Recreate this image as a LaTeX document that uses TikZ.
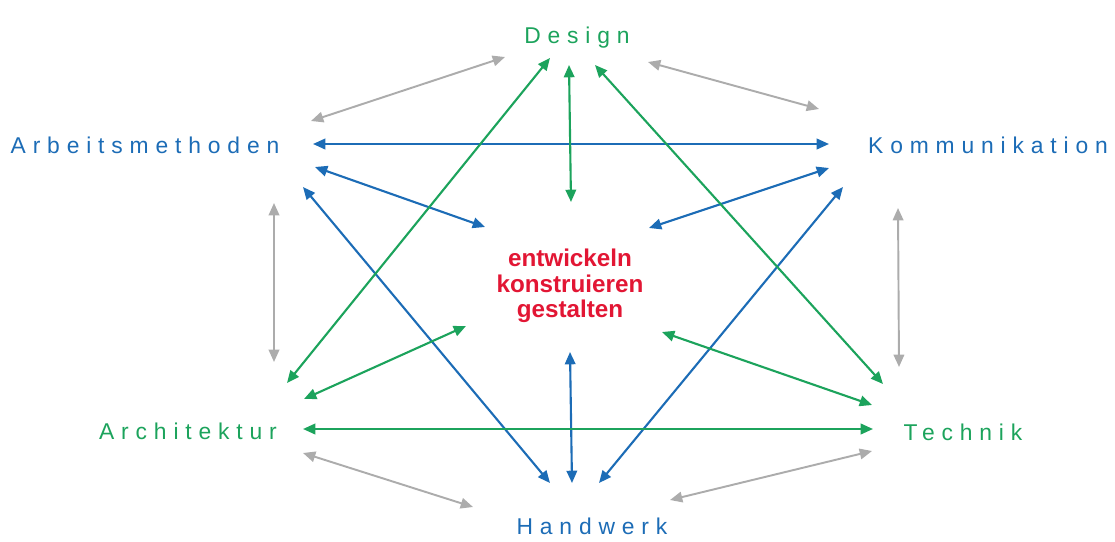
\documentclass[tikz,border=0pt]{standalone}
\usepackage{fontspec}
\setmainfont{Liberation Sans}
\newfontfamily\spaced[LetterSpace=30]{Liberation Sans}
\usepackage{xcolor}
\definecolor{LinkBlue}{RGB}{28, 108, 182}
\definecolor{LinkGreen}{RGB}{28, 163, 92}
\definecolor{LinkGray}{RGB}{172, 172, 172}
\definecolor{CoreRed}{RGB}{226, 22, 52}
\usetikzlibrary{arrows.meta}

\begin{document}
\begin{tikzpicture}[
    x=0.02cm, y=-0.02cm,
    label/.style={inner sep=0pt, anchor=base, font=\spaced\fontsize{13}{15}\selectfont},
    core/.style={inner sep=0pt, align=center, text=CoreRed, font=\bfseries\fontsize{13.8}{14.6}\selectfont},
    link/.style={{Triangle[length=7pt,width=6pt]}-{Triangle[length=7pt,width=6pt]}, line width=1.2pt},
    bluelink/.style={link, LinkBlue},
    greenlink/.style={link, LinkGreen},
    graylink/.style={link, LinkGray, line width=1.1pt}
]
\useasboundingbox (0,0) rectangle (1115,541);

% Labels
\node[label, text=LinkGreen] (design) at (577,43) {Design};
\node[label, text=LinkBlue] (arbeit) at (145,153) {Arbeitsmethoden};
\node[label, text=LinkBlue] (kommu) at (988,153) {Kommunikation};
\node[label, text=LinkGreen] (archi) at (188,439) {Architektur};
\node[label, text=LinkGreen] (technik) at (963,440) {Technik};
\node[label, text=LinkBlue] (handw) at (592,534) {Handwerk};
\node[core] (kern) at (570,286) {entwickeln\\konstruieren\\gestalten};

% Outer ring (gray)
\draw[graylink] ([shift={(166,-32)}]arbeit.base) -- ([shift={(-72,14)}]design.base);
\draw[graylink] ([shift={(71,19)}]design.base) -- ([shift={(-169,-44)}]kommu.base);
\draw[graylink] ([shift={(129,50)}]arbeit.base) -- ([shift={(86,-77)}]archi.base);
\draw[graylink] ([shift={(-90,55)}]kommu.base) -- ([shift={(-64,-73)}]technik.base);
\draw[graylink] ([shift={(115,14)}]archi.base) -- ([shift={(-119,-27)}]handw.base);
\draw[graylink] ([shift={(78,-34)}]handw.base) -- ([shift={(-91,11)}]technik.base);

% Blue links
\draw[bluelink] ([shift={(168,-9)}]arbeit.base) -- ([shift={(-159,-9)}]kommu.base);
\draw[bluelink] ([shift={(170,14)}]arbeit.base) -- ([shift={(-85,-59)}]kern.center);
\draw[bluelink] ([shift={(158,34)}]arbeit.base) -- ([shift={(-42,-51)}]handw.base);
\draw[bluelink] ([shift={(-159,15)}]kommu.base) -- ([shift={(79,-58)}]kern.center);
\draw[bluelink] ([shift={(-145,34)}]kommu.base) -- ([shift={(7,-51)}]handw.base);
\draw[bluelink] ([shift={(0,66)}]kern.center) -- ([shift={(-20,-51)}]handw.base);

% Green links
\draw[greenlink] ([shift={(-8,22)}]design.base) -- ([shift={(1,-84)}]kern.center);
\draw[greenlink] ([shift={(-27,15)}]design.base) -- ([shift={(99,-56)}]archi.base);
\draw[greenlink] ([shift={(18,22)}]design.base) -- ([shift={(-80,-56)}]technik.base);
\draw[greenlink] ([shift={(116,-40)}]archi.base) -- ([shift={(-104,40)}]kern.center);
\draw[greenlink] ([shift={(115,-10)}]archi.base) -- ([shift={(-90,-11)}]technik.base);
\draw[greenlink] ([shift={(92,46)}]kern.center) -- ([shift={(-91,-35)}]technik.base);

\end{tikzpicture}
\end{document}
